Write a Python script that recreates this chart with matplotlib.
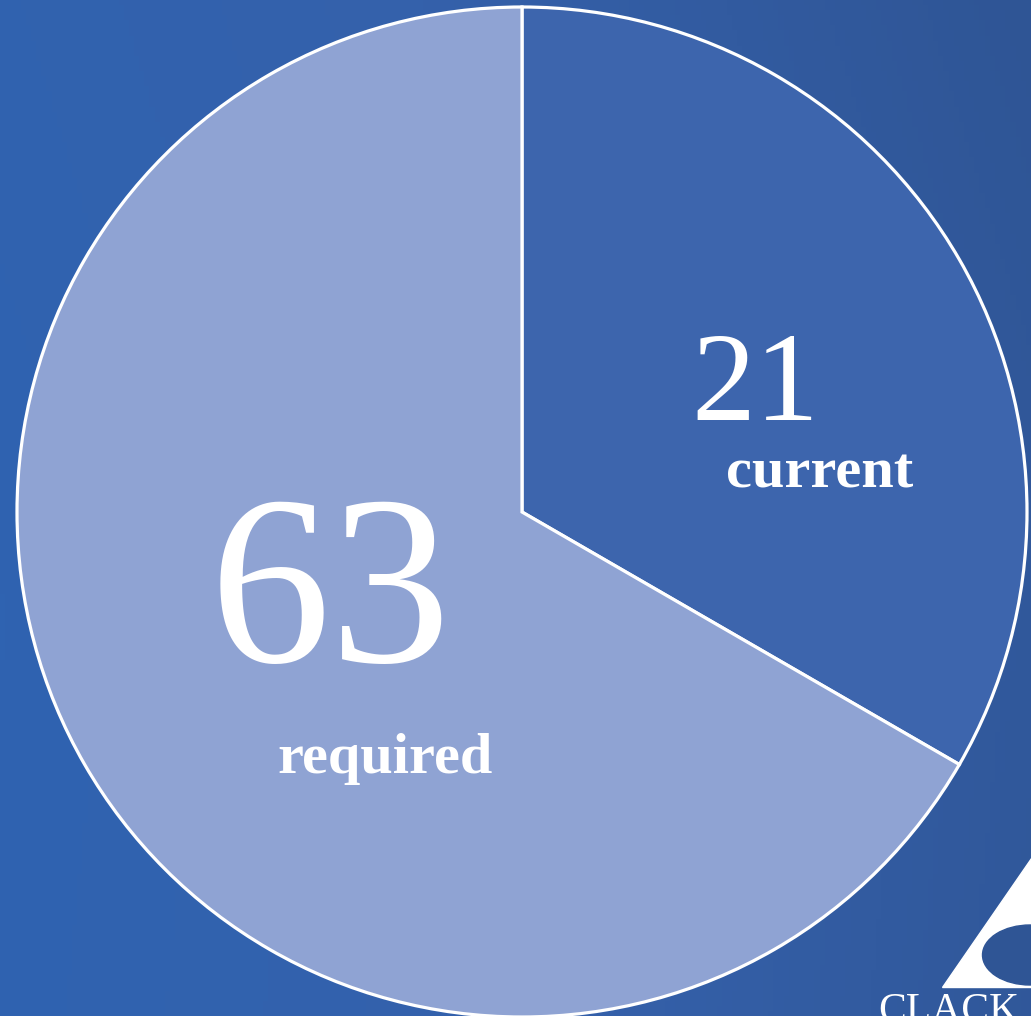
import matplotlib;matplotlib.use("Agg")
import matplotlib.pyplot as plt
import matplotlib.patches as patches
from matplotlib.colors import LinearSegmentedColormap
import numpy as np

# data
labels = ['current', 'required']
current = 21
required = 63
wedge_vals = [current, required - current]
wedge_colors = ['#3d65ad', '#8fa3d3']

W, H = 1031, 1016
fig = plt.figure(figsize=(W / 100.0, H / 100.0), dpi=100)
ax = fig.add_axes([0, 0, 1, 1])
ax.set_xlim(0, W)
ax.set_ylim(0, H)
ax.axis('off')

# background gradient (lighter at left, darker to the right)
xx, yy = np.meshgrid(np.linspace(0, 1, 200), np.linspace(0, 1, 200))
grad = np.clip(0.75 * xx + 0.25 * (1 - yy) * 0.3 + 0.15 * np.abs(yy - 0.6), 0, 1)
bg = LinearSegmentedColormap.from_list('bg', ['#2f63b1', '#3561ab', '#2f5595'])
ax.imshow(grad, cmap=bg, extent=[0, W, 0, H], origin='upper', aspect='auto', zorder=0)

cx, cy, r = 522, H - 512, 505
wedges, _ = ax.pie(wedge_vals, colors=wedge_colors, startangle=90, counterclock=False,
                   center=(cx, cy), radius=r, frame=True,
                   wedgeprops={'edgecolor': 'white', 'linewidth': 2.3})
for w in wedges:
    w.set_zorder(2)
ax.set_xlim(0, W)
ax.set_ylim(0, H)
ax.set_aspect('equal')
ax.axis('off')

serif = ['Liberation Serif', 'DejaVu Serif']
ax.text(755, H - 389, str(current), color='white', fontsize=92, family=serif,
        ha='center', va='center', zorder=3)
ax.text(820, H - 474, labels[0], color='white', fontsize=42, family=serif,
        fontweight='bold', ha='center', va='center', zorder=3)
ax.text(330, H - 603, str(required), color='white', fontsize=174, family=serif,
        ha='center', va='center', zorder=3)
ax.text(385, H - 759, labels[1], color='white', fontsize=42, family=serif,
        fontweight='bold', ha='center', va='center', zorder=3)

# logo in the corner
tri = patches.Polygon([(942, H - 987), (1040, H - 987), (1040, H - 845)],
                      closed=True, color='white', zorder=3)
ax.add_patch(tri)
ell = patches.Ellipse((1030, H - 955), 95, 60, color='#2f5595', zorder=4)
ax.add_patch(ell)
ax.text(878, H - 1022, 'CLACK', color='white', fontsize=30, family=serif,
        ha='left', va='baseline', zorder=3)

plt.savefig('out.png', dpi=100)
